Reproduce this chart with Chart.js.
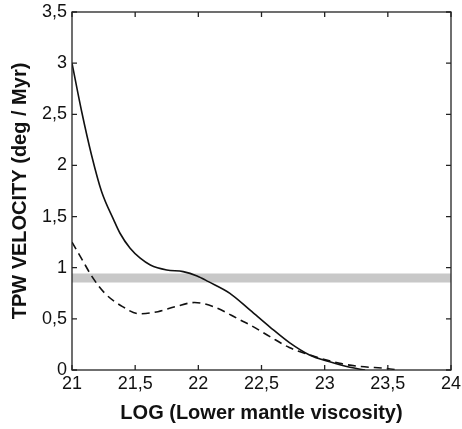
<!DOCTYPE html>
<html>
<head>
<meta charset="utf-8">
<script src="https://cdn.jsdelivr.net/npm/chart.js@4"></script>
<style>
  html, body { margin: 0; padding: 0; background: #fff; }
  #wrap { width: 462px; height: 429px; position: relative; }
</style>
</head>
<body>
<div id="wrap"><canvas id="chart"></canvas></div>
<script>
// values
const solidX = [21, 21.076, 21.155, 21.234, 21.33, 21.38, 21.46, 21.54, 21.62, 21.75, 21.88, 21.99, 22.08, 22.25, 22.41, 22.567, 22.724, 22.88, 23.04, 23.2, 23.32];
const solidY = [3.0, 2.53, 2.1, 1.745, 1.468, 1.337, 1.19, 1.093, 1.027, 0.978, 0.962, 0.92, 0.864, 0.75, 0.585, 0.42, 0.265, 0.147, 0.08, 0.026, 0];
const dashedX = [21, 21.08, 21.16, 21.26, 21.4, 21.53, 21.68, 21.82, 21.97, 22.12, 22.33, 22.41, 22.567, 22.72, 22.85, 23.12, 23.28, 23.49, 23.59];
const dashedY = [1.25, 1.08, 0.91, 0.75, 0.62, 0.55, 0.57, 0.62, 0.66, 0.62, 0.49, 0.44, 0.326, 0.22, 0.16, 0.065, 0.035, 0.015, 0];
const bandX = [21, 24];
const bandLevel = 0.9;
const xTicks = [21, 21.5, 22, 22.5, 23, 23.5, 24];
const yTicks = [0, 0.5, 1, 1.5, 2, 2.5, 3, 3.5];

const pts = (xs, ys) => xs.map((x, i) => ({ x, y: ys[i] }));
const comma = v => String(v).replace('.', ',');

// frame + inward ticks on all four sides
const frameTicks = {
  id: 'frameTicks',
  afterDatasetsDraw(chart) {
    const { ctx, chartArea: a, scales: { x, y } } = chart;
    ctx.save();
    ctx.strokeStyle = '#222';
    ctx.lineWidth = 1.3;
    ctx.strokeRect(a.left, a.top, a.right - a.left, a.bottom - a.top);
    ctx.beginPath();
    xTicks.forEach(v => {
      const px = x.getPixelForValue(v);
      ctx.moveTo(px, a.bottom); ctx.lineTo(px, a.bottom - 5);
      ctx.moveTo(px, a.top); ctx.lineTo(px, a.top + 5);
    });
    yTicks.forEach(v => {
      const py = y.getPixelForValue(v);
      ctx.moveTo(a.left, py); ctx.lineTo(a.left + 5, py);
      ctx.moveTo(a.right, py); ctx.lineTo(a.right - 5, py);
    });
    ctx.stroke();
    ctx.restore();
  }
};

new Chart(document.getElementById('chart'), {
  type: 'line',
  data: {
    datasets: [
      {
        data: pts(solidX, solidY),
        borderColor: '#111',
        borderWidth: 1.6,
        pointRadius: 0,
        cubicInterpolationMode: 'monotone',
      },
      {
        data: pts(dashedX, dashedY),
        borderColor: '#111',
        borderWidth: 1.6,
        borderDash: [8, 5],
        pointRadius: 0,
        cubicInterpolationMode: 'monotone',
      },
      {
        data: bandX.map(x => ({ x, y: bandLevel })),
        borderColor: '#c8c8c8',
        borderWidth: 9,
        pointRadius: 0,
      },
    ],
  },
  options: {
    responsive: true,
    maintainAspectRatio: false,
    animation: false,
    layout: { padding: { top: 12, right: 11, left: 8, bottom: 4 } },
    plugins: { legend: { display: false }, tooltip: { enabled: false } },
    scales: {
      x: {
        type: 'linear',
        min: 21,
        max: 24,
        afterBuildTicks: s => { s.ticks = xTicks.map(value => ({ value })); },
        afterFit: s => { s.height = 55; s.paddingLeft = 0; s.paddingRight = 0; },
        grid: { display: false, drawTicks: false },
        border: { display: false },
        ticks: {
          padding: 3,
          color: '#111',
          font: { family: 'Liberation Sans', size: 18 },
          callback: comma,
          maxRotation: 0,
        },
        title: {
          display: true,
          text: 'LOG (Lower mantle viscosity)',
          color: '#111',
          font: { family: 'Liberation Sans', size: 20, weight: 'bold' },
          padding: { top: 0, bottom: 0 },
        },
      },
      y: {
        min: 0,
        max: 3.5,
        afterBuildTicks: s => { s.ticks = yTicks.map(value => ({ value })); },
        afterFit: s => { s.width = 64; s.paddingTop = 0; s.paddingBottom = 0; },
        grid: { display: false, drawTicks: false },
        border: { display: false },
        ticks: {
          padding: 5,
          color: '#111',
          font: { family: 'Liberation Sans', size: 18 },
          callback: comma,
        },
        title: {
          display: true,
          text: 'TPW VELOCITY (deg / Myr)',
          color: '#111',
          font: { family: 'Liberation Sans', size: 20, weight: 'bold' },
          padding: { top: 0, bottom: 0 },
        },
      },
    },
  },
  plugins: [frameTicks],
});
</script>
</body>
</html>
